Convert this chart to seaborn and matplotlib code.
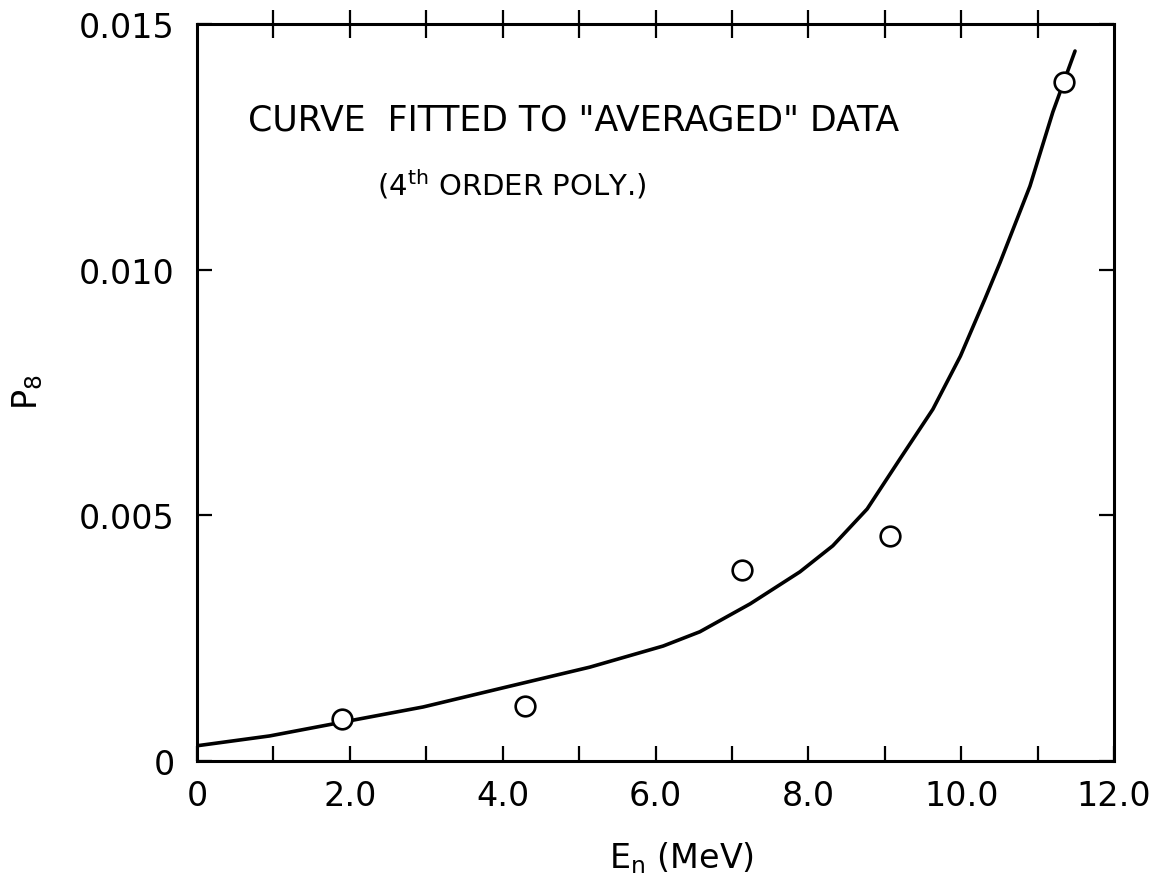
import matplotlib
matplotlib.use("Agg")
import matplotlib.pyplot as plt
import seaborn as sns
import pandas as pd

# Data
energy_pts = [1.90, 4.29, 7.13, 9.07, 11.35]
p8_pts = [0.00085, 0.00112, 0.00389, 0.00458, 0.01382]

curve_x = [0.0, 0.95, 1.90, 2.96, 4.06, 5.14, 6.10, 6.58, 7.24, 7.89,
           8.32, 8.77, 9.20, 9.63, 9.99, 10.31, 10.51, 10.90, 11.20, 11.49]
curve_y = [0.00031, 0.00051, 0.00079, 0.00110, 0.00151, 0.00191, 0.00234,
           0.00263, 0.00320, 0.00385, 0.00438, 0.00513, 0.00615, 0.00716,
           0.00824, 0.00940, 0.01015, 0.01170, 0.01321, 0.01445]

x_major = [0, 2, 4, 6, 8, 10, 12]
x_labels = ["0", "2.0", "4.0", "6.0", "8.0", "10.0", "12.0"]
x_minor = [1, 3, 5, 7, 9, 11]
y_major = [0, 0.005, 0.010, 0.015]
y_labels = ["0", "0.005", "0.010", "0.015"]

title1 = 'CURVE  FITTED TO "AVERAGED" DATA'
title2 = r'(4$^{\mathrm{th}}$ ORDER POLY.)'
xlabel = r'E$_{\mathrm{n}}$ (MeV)'
ylabel = r'P$_{\mathrm{8}}$'

sns.set_theme(style="ticks")
plt.rcParams['font.family'] = ['DejaVu Sans']
plt.rcParams['mathtext.fontset'] = 'dejavusans'
plt.rcParams['text.color'] = 'black'
plt.rcParams['axes.labelcolor'] = 'black'
plt.rcParams['xtick.color'] = 'black'
plt.rcParams['ytick.color'] = 'black'

fig = plt.figure(figsize=(11.72, 8.78), dpi=100)
ax = fig.add_axes([197/1172, 116/878, 917/1172, 737/878])

pts = pd.DataFrame({"E": energy_pts, "P": p8_pts})
crv = pd.DataFrame({"E": curve_x, "P": curve_y})

sns.lineplot(data=crv, x="E", y="P", ax=ax, color="black", linewidth=2.6,
             sort=False, zorder=2)
sns.scatterplot(data=pts, x="E", y="P", ax=ax, marker="o", s=200,
                facecolor="white", edgecolor="black", linewidth=1.9, zorder=3)

ax.set_xlim(0, 12)
ax.set_ylim(0, 0.015)

for s in ax.spines.values():
    s.set_linewidth(2.2)
    s.set_color("black")

ax.set_xticks(x_major)
ax.set_xticklabels(x_labels)
ax.set_xticks(x_minor, minor=True)
ax.set_yticks(y_major)
ax.set_yticklabels(y_labels)

ax.tick_params(axis="x", which="both", direction="in", length=11, width=1.6,
               labelsize=24, pad=13, top=False, bottom=True, color="black",
               labelcolor="black")
ax.tick_params(axis="y", which="both", direction="in", length=11, width=1.6,
               labelsize=24, pad=16, left=True, right=True, color="black",
               labelcolor="black")

# top ticks crossing the spine
secx = ax.secondary_xaxis("top")
secx.set_xticks(list(range(1, 12)))
secx.set_xticklabels([])
secx.tick_params(direction="inout", length=20, width=1.6, color="black")
secx.spines["top"].set_visible(False)

ax.set_xlabel(xlabel, fontsize=24, color="black")
ax.xaxis.label.set_va("center")
ax.xaxis.set_label_coords(0.528, -0.130)
ax.set_ylabel(ylabel, fontsize=24, color="black")
ax.yaxis.label.set_va("center")
ax.yaxis.set_label_coords(-0.185, 0.502)

ax.text(0.411, 0.870, title1, transform=ax.transAxes, ha="center",
        va="center", fontsize=25, color="black")
ax.text(0.3435, 0.783, title2, transform=ax.transAxes, ha="center",
        va="center", fontsize=21, color="black")

fig.savefig("out.png", dpi=100, facecolor="white")
